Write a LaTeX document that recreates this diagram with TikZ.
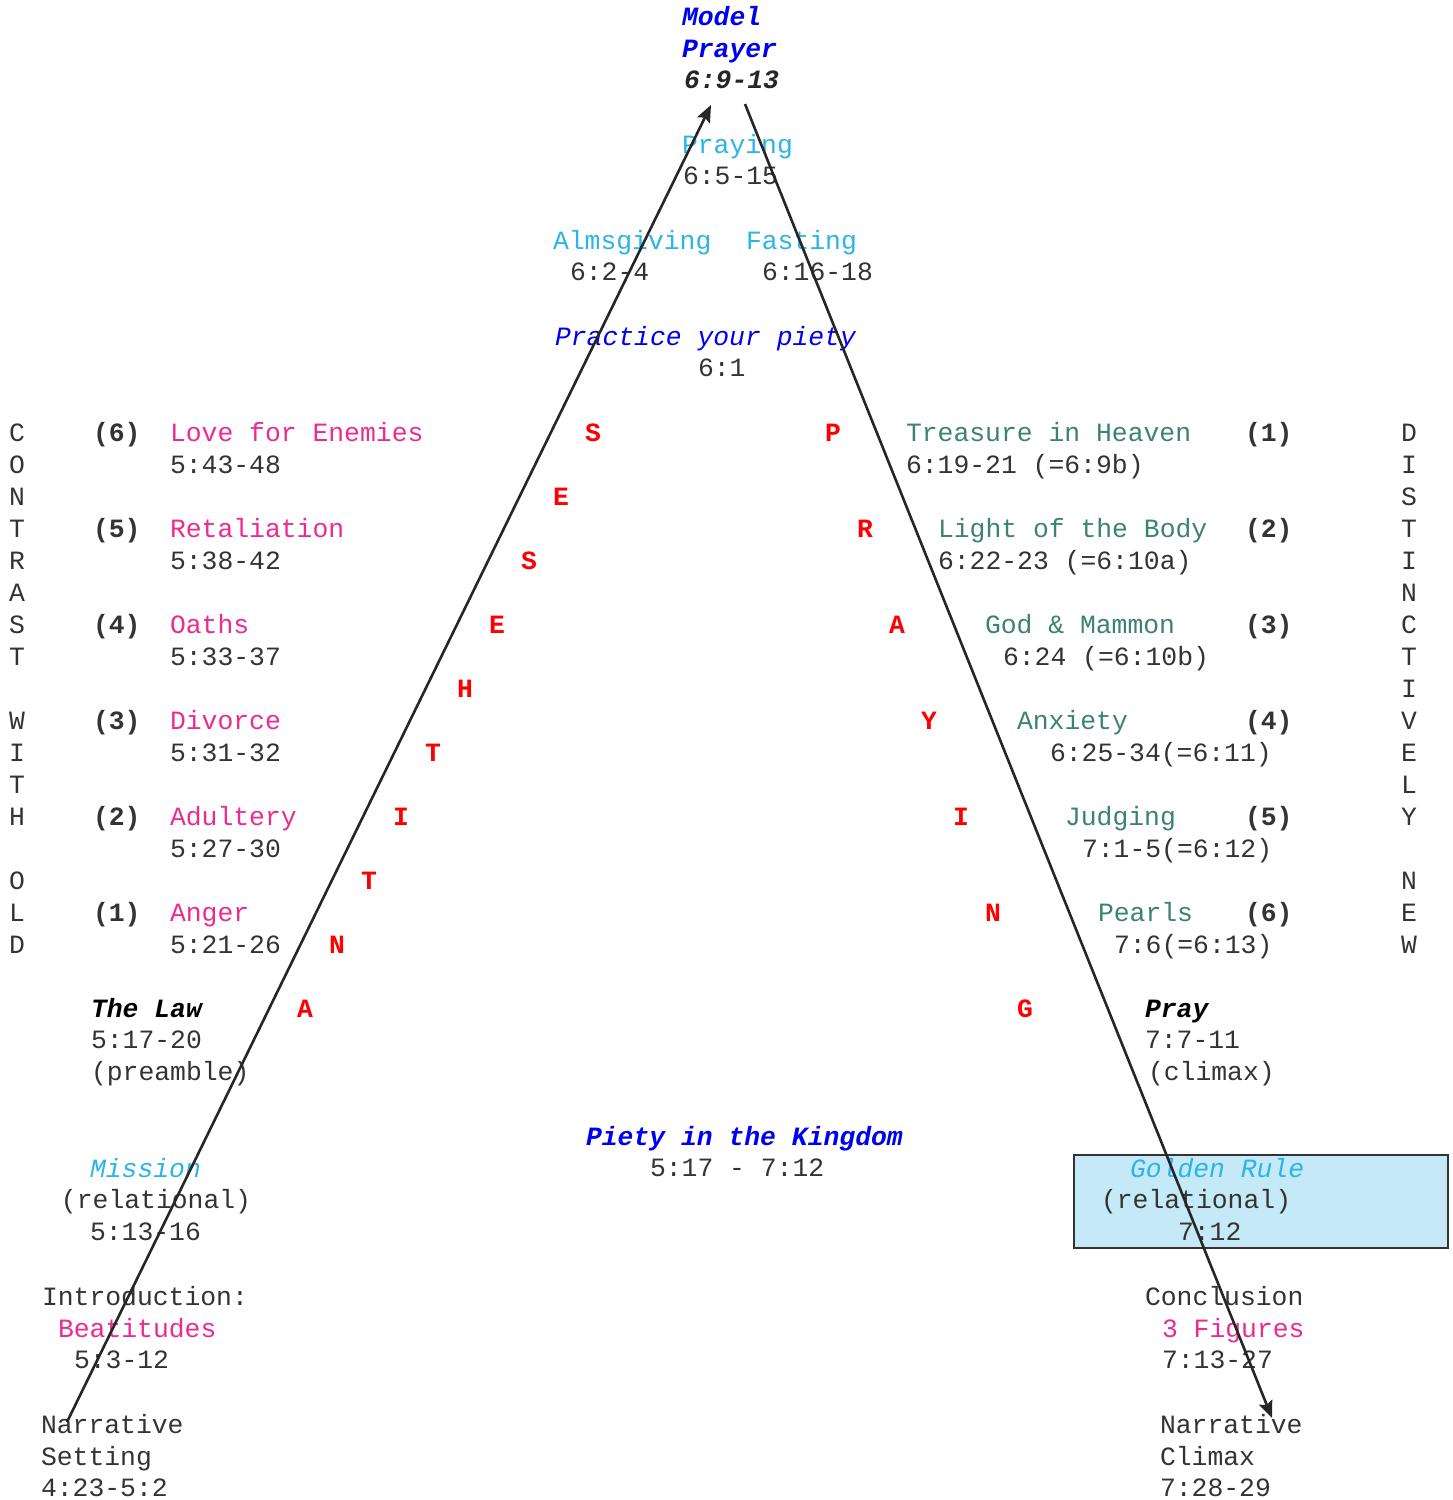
\documentclass[tikz,border=0pt]{standalone}
\usepackage{fontspec}
\setmainfont{Liberation Mono}
\usetikzlibrary{arrows.meta}
\definecolor{ink}{HTML}{333333}
\definecolor{magc}{HTML}{EC2A90}
\definecolor{greenc}{HTML}{3C8272}
\definecolor{skyc}{HTML}{2AB4E8}
\definecolor{bluec}{HTML}{0000F0}
\definecolor{redc}{HTML}{FF0000}
\definecolor{boxc}{HTML}{C6E9F8}
\tikzset{
  lbl/.style={inner sep=0pt, outer sep=0pt, anchor=base west,
    font=\fontsize{13.2}{16}\selectfont, text=ink},
  ctr/.style={lbl, anchor=base},
  pink/.style={text=magc},
  greent/.style={text=greenc},
  skyt/.style={text=skyc},
  bluet/.style={text=bluec},
  redbf/.style={ctr, text=redc, font=\fontsize{13.2}{16}\selectfont\bfseries},
  bfit/.style={font=\fontsize{13.2}{16}\selectfont\bfseries\itshape},
  itt/.style={font=\fontsize{13.2}{16}\selectfont\itshape},
  bft/.style={font=\fontsize{13.2}{16}\selectfont\bfseries},
  conn/.style={draw=black!85, line width=1.3pt, -{Stealth[length=8.5pt,width=7pt,inset=1.5pt]}},
  gbox/.style={draw=black!80, line width=1.2pt, fill=boxc}
}
\begin{document}
\begin{tikzpicture}[x=0.5pt,y=-0.5pt]
\useasboundingbox (0,0) rectangle (1452,1500);

% golden rule box
\path[gbox] (1074,1155) rectangle (1448,1248);

% top
\node[lbl,bluet,bfit] (mp1) at (682,25) {Model};
\node[lbl,bluet,bfit] (mp2) at (682,57) {Prayer};
\node[lbl,bfit,text=black!85] (mp3) at (684,88) {6:9-13};
\node[lbl,skyt] (pr1) at (682,153) {Praying};
\node[lbl] (pr2) at (683,184) {6:5-15};
\node[lbl,skyt] (al1) at (553,249) {Almsgiving};
\node[lbl] (al2) at (570,280) {6:2-4};
\node[lbl,skyt] (fa1) at (746,249) {Fasting};
\node[lbl] (fa2) at (762,280) {6:16-18};
\node[lbl,bluet,itt] (pp1) at (555,345) {Practice your piety};
\node[lbl] (pp2) at (698,376) {6:1};

% vertical words
\foreach \c [count=\i from 0] in {C,O,N,T,R,A,S,T,{},W,I,T,H,{},O,L,D}
  \node[ctr] (cw\i) at (17,{441+32*\i}) {\c};
\foreach \c [count=\i from 0] in {D,I,S,T,I,N,C,T,I,V,E,L,Y,{},N,E,W}
  \node[ctr] (dn\i) at (1409,{441+32*\i}) {\c};

% left antitheses
\node[lbl,bft] (ln6) at (93,441) {(6)};
\node[lbl,pink] (lt6) at (170,441) {Love for Enemies};
\node[lbl] (lr6) at (170,473) {5:43-48};
\node[lbl,bft] (ln5) at (93,537) {(5)};
\node[lbl,pink] (lt5) at (170,537) {Retaliation};
\node[lbl] (lr5) at (170,569) {5:38-42};
\node[lbl,bft] (ln4) at (93,633) {(4)};
\node[lbl,pink] (lt4) at (170,633) {Oaths};
\node[lbl] (lr4) at (170,665) {5:33-37};
\node[lbl,bft] (ln3) at (93,729) {(3)};
\node[lbl,pink] (lt3) at (170,729) {Divorce};
\node[lbl] (lr3) at (170,761) {5:31-32};
\node[lbl,bft] (ln2) at (93,825) {(2)};
\node[lbl,pink] (lt2) at (170,825) {Adultery};
\node[lbl] (lr2) at (170,857) {5:27-30};
\node[lbl,bft] (ln1) at (93,921) {(1)};
\node[lbl,pink] (lt1) at (170,921) {Anger};
\node[lbl] (lr1) at (170,953) {5:21-26};

% right teachings
\node[lbl,greent] (rt1) at (906,441) {Treasure in Heaven};
\node[lbl] (rr1) at (906,473) {6:19-21 (=6:9b)};
\node[lbl,bft] (rn1) at (1245,441) {(1)};
\node[lbl,greent] (rt2) at (938,537) {Light of the Body};
\node[lbl] (rr2) at (938,569) {6:22-23 (=6:10a)};
\node[lbl,bft] (rn2) at (1245,537) {(2)};
\node[lbl,greent] (rt3) at (985,633) {God \& Mammon};
\node[lbl] (rr3) at (1003,665) {6:24 (=6:10b)};
\node[lbl,bft] (rn3) at (1245,633) {(3)};
\node[lbl,greent] (rt4) at (1017,729) {Anxiety};
\node[lbl] (rr4) at (1050,761) {6:25-34(=6:11)};
\node[lbl,bft] (rn4) at (1245,729) {(4)};
\node[lbl,greent] (rt5) at (1065,825) {Judging};
\node[lbl] (rr5) at (1082,857) {7:1-5(=6:12)};
\node[lbl,bft] (rn5) at (1245,825) {(5)};
\node[lbl,greent] (rt6) at (1098,921) {Pearls};
\node[lbl] (rr6) at (1114,953) {7:6(=6:13)};
\node[lbl,bft] (rn6) at (1245,921) {(6)};

% red letters
\node[redbf] (a1) at (305,1017) {A};
\node[redbf] (a2) at (337,953) {N};
\node[redbf] (a3) at (369,889) {T};
\node[redbf] (a4) at (401,825) {I};
\node[redbf] (a5) at (433,761) {T};
\node[redbf] (a6) at (465,697) {H};
\node[redbf] (a7) at (497,633) {E};
\node[redbf] (a8) at (529,569) {S};
\node[redbf] (a9) at (561,505) {E};
\node[redbf] (a10) at (593,441) {S};
\node[redbf] (p1) at (833,441) {P};
\node[redbf] (p2) at (865,537) {R};
\node[redbf] (p3) at (897,633) {A};
\node[redbf] (p4) at (929,729) {Y};
\node[redbf] (p5) at (961,825) {I};
\node[redbf] (p6) at (993,921) {N};
\node[redbf] (p7) at (1025,1017) {G};

% lower blocks
\node[lbl,bfit,text=black] (law1) at (91,1017) {The Law};
\node[lbl] (law2) at (91,1048) {5:17-20};
\node[lbl] (law3) at (91,1080) {(preamble)};
\node[lbl,bfit,text=black] (pray1) at (1145,1017) {Pray};
\node[lbl] (pray2) at (1145,1048) {7:7-11};
\node[lbl] (pray3) at (1148,1080) {(climax)};
\node[lbl,bluet,bfit] (pk1) at (586,1145) {Piety in the Kingdom};
\node[lbl] (pk2) at (650,1176) {5:17 - 7:12};
\node[lbl,skyt,itt] (mi1) at (90,1177) {Mission};
\node[lbl] (mi2) at (61,1208) {(relational)};
\node[lbl] (mi3) at (90,1240) {5:13-16};
\node[lbl,skyt,itt] (gr1) at (1130,1177) {Golden Rule};
\node[lbl] (gr2) at (1101,1208) {(relational)};
\node[lbl] (gr3) at (1178,1240) {7:12};
\node[lbl] (in1) at (42,1305) {Introduction:};
\node[lbl,pink] (in2) at (58,1337) {Beatitudes};
\node[lbl] (in3) at (74,1368) {5:3-12};
\node[lbl] (co1) at (1145,1305) {Conclusion};
\node[lbl,pink] (co2) at (1162,1337) {3 Figures};
\node[lbl] (co3) at (1162,1368) {7:13-27};
\node[lbl] (ns1) at (41,1433) {Narrative};
\node[lbl] (ns2) at (41,1465) {Setting};
\node[lbl] (ns3) at (41,1496) {4:23-5:2};
\node[lbl] (nc1) at (1160,1433) {Narrative};
\node[lbl] (nc2) at (1160,1465) {Climax};
\node[lbl] (nc3) at (1160,1496) {7:28-29};

% connectors
\coordinate (aS) at (67,1422);
\coordinate (aE) at (711,105);
\coordinate (bS) at (745,104);
\coordinate (bE) at (1272,1418);
\draw[conn] (aS) -- (aE);
\draw[conn] (bS) -- (bE);
\end{tikzpicture}
\end{document}
